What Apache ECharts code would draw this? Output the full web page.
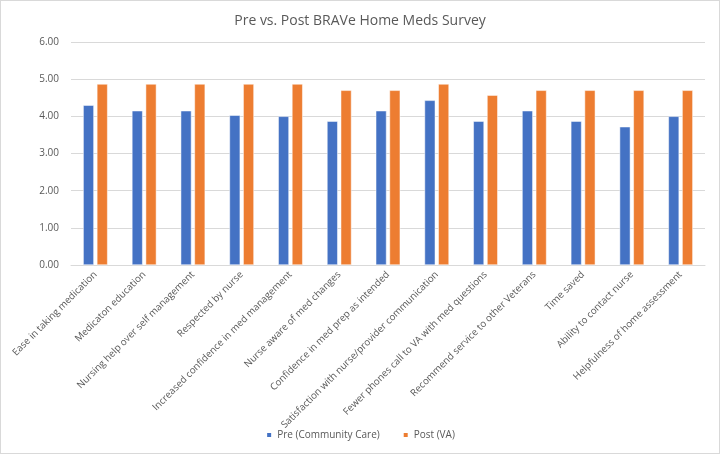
<!DOCTYPE html>
<html>
<head>
<meta charset="utf-8">
<script src="https://cdn.jsdelivr.net/npm/echarts@6/dist/echarts.min.js"></script>
<style>
html,body{margin:0;padding:0;background:#fff;}
#c{width:718px;height:452px;border:1px solid #d9d9d9;}
</style>
</head>
<body>
<div id="c"></div>
<script>
var categories = ["Ease in taking medication","Medicaton education","Nursing help over self management","Respected by nurse","Increased confidence in med management","Nurse aware of med changes","Confidence in med prep as intended","Satisfaction with nurse/provider communication","Fewer phones call to VA with med questions","Recommend service to other Veterans","Time saved","Ability to contact nurse","Helpfulness of home assessment"];
var preValues = [4.30,4.15,4.15,4.03,4.00,3.87,4.15,4.43,3.87,4.15,3.87,3.72,4.00];
var postValues = [4.87,4.87,4.87,4.87,4.87,4.70,4.70,4.87,4.57,4.70,4.70,4.70,4.70];
var seriesNames = ["Pre (Community Care)","Post (VA)"];
var FONT = "Open Sans";
var chart = echarts.init(document.getElementById('c'));
chart.setOption({
  animation:false,
  title:{text:"Pre vs. Post BRAVe Home Meds Survey",left:'center',top:8,textStyle:{fontFamily:FONT,fontSize:14,fontWeight:'normal',color:'#595959'}},
  legend:{data:seriesNames,bottom:8,left:'center',itemWidth:6,itemHeight:6,itemGap:22,icon:'rect',textStyle:{fontFamily:FONT,fontSize:10,color:'#595959'}},
  grid:{left:70,right:14,top:41,bottom:188,containLabel:false},
  xAxis:{type:'category',data:categories,axisTick:{show:false},axisLine:{lineStyle:{color:'#d9d9d9'}},
    axisLabel:{rotate:45,interval:0,fontFamily:FONT,fontSize:9.7,color:'#595959',margin:8}},
  yAxis:{type:'value',min:0,max:6,interval:1,axisLabel:{formatter:function(v){return v.toFixed(2);},fontFamily:FONT,fontSize:10,color:'#595959',margin:12},
    splitLine:{lineStyle:{color:'#d9d9d9'}},axisLine:{show:false},axisTick:{show:false}},
  series:[
    {name:seriesNames[0],type:'bar',data:preValues,barWidth:'22%',barGap:'28%',itemStyle:{color:'#4472C4',borderColor:'#ffffff',borderWidth:0.5}},
    {name:seriesNames[1],type:'bar',data:postValues,barWidth:'22%',itemStyle:{color:'#ED7D31',borderColor:'#ffffff',borderWidth:0.5}}
  ]
});
</script>
</body>
</html>
